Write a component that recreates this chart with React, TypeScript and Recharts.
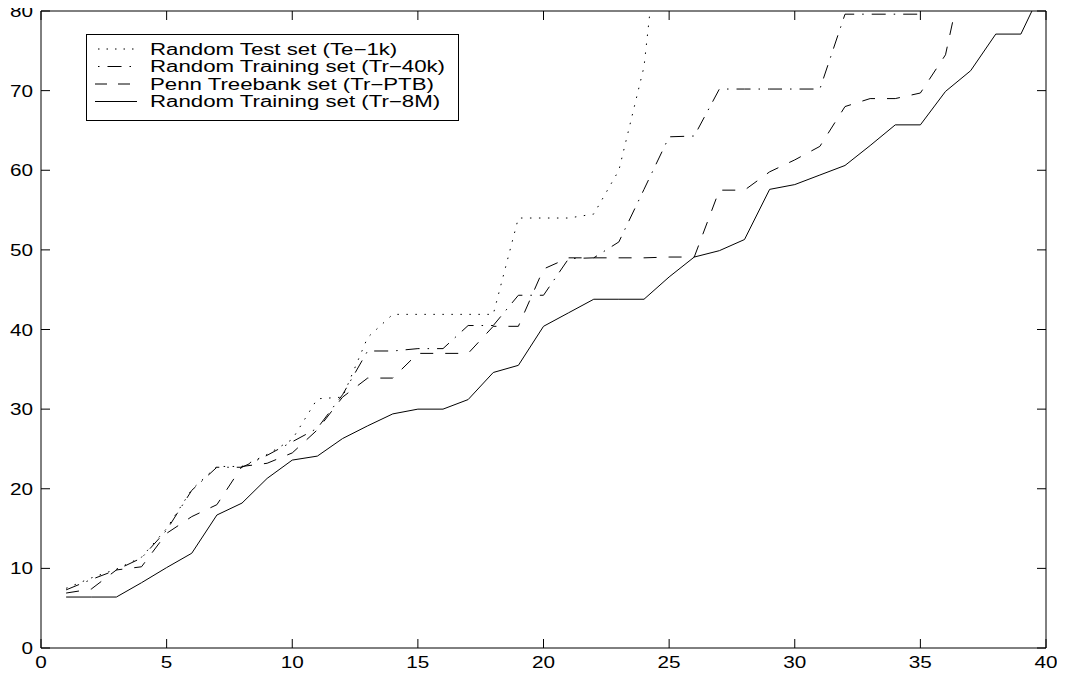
import React from "react";
import { LineChart, Line, XAxis, YAxis, Legend } from "recharts";

// step index on the x axis
const steps = [
  1, 2, 3, 4, 5, 6, 7, 8, 9, 10, 11, 12, 13, 14, 15, 16, 17, 18, 19, 20,
  21, 22, 23, 24, 25, 26, 27, 28, 29, 30, 31, 32, 33, 34, 35, 36, 37, 38, 39, 40,
];

// Random Test set (Te-1k)
const te1k = [
  7.5, 8.8, 9.9, 11.4, 15.0, 19.9, 22.8, 22.8, 24.3, 26.2, 31.3, 31.5, 39.0,
  41.9, 41.9, 41.9, 41.9, 41.9, 54.0, 54.0, 54.0, 54.5, 60.0, 73.0, 102.0,
];

// Random Training set (Tr-40k)
const tr40k = [
  7.3, 8.6, 9.8, 11.3, 14.8, 19.8, 22.7, 22.7, 24.2, 25.9, 27.6, 31.8, 37.3,
  37.3, 37.6, 37.6, 40.5, 40.5, 44.3, 44.3, 48.9, 49.0, 51.0, 57.6, 64.2, 64.3,
  70.2, 70.2, 70.2, 70.2, 70.2, 79.6, 79.6, 79.6, 79.6, 90.0,
];

// Penn Treebank set (Tr-PTB)
const trPtb = [
  6.9, 7.4, 9.8, 10.2, 14.4, 16.5, 18.0, 22.8, 23.2, 24.5, 27.4, 31.5, 33.9,
  33.9, 37.0, 37.0, 37.0, 40.4, 40.4, 47.6, 49.0, 49.0, 49.0, 49.0, 49.1, 49.1,
  57.5, 57.5, 59.8, 61.3, 63.0, 68.0, 69.0, 69.0, 69.7, 74.5, 89.0,
];

// Random Training set (Tr-8M)
const tr8m = [
  6.4, 6.4, 6.4, 8.2, 10.1, 11.9, 16.7, 18.2, 21.3, 23.6, 24.1, 26.3, 27.9,
  29.4, 30.0, 30.0, 31.2, 34.6, 35.5, 40.4, 42.1, 43.8, 43.8, 43.8, 46.6, 49.1,
  49.9, 51.3, 57.6, 58.2, 59.4, 60.6, 63.1, 65.7, 65.7, 69.9, 72.5, 77.1, 77.1,
  83.7,
];

const seriesNames = [
  "Random Test set (Te\u22121k)",
  "Random Training set (Tr\u221240k)",
  "Penn Treebank set (Tr\u2212PTB)",
  "Random Training set (Tr\u22128M)",
];

const xTicks = [0, 5, 10, 15, 20, 25, 30, 35, 40];
const yTicks = [0, 10, 20, 30, 40, 50, 60, 70, 80];

const data = steps.map((x, i) => ({
  x,
  te1k: te1k[i],
  tr40k: tr40k[i],
  trPtb: trPtb[i],
  tr8m: tr8m[i],
}));

const FONT = '"Liberation Sans", Arial, Helvetica, sans-serif';
const TICK = 9;
const STRETCH = 1.22;
const TICK_FONT = 17;

const DOTTED = "1.5 7.5";
const DASHDOT = "14 8 1.5 8";
const DASHED = "13 12";

function BottomTick({ x, y, payload }: any) {
  return (
    <g>
      <line x1={x} y1={y} x2={x} y2={y - TICK} stroke="#000" />
      <text
        transform={`translate(${x},${y + 20}) scale(${STRETCH},1)`}
        textAnchor="middle"
        fontSize={TICK_FONT}
        fontFamily={FONT}
        fill="#000"
      >
        {payload.value}
      </text>
    </g>
  );
}

function LeftTick({ x, y, payload }: any) {
  return (
    <g>
      <line x1={x} y1={y} x2={x + TICK} y2={y} stroke="#000" />
      <text
        transform={`translate(${x - 8},${y + 6}) scale(${STRETCH},1)`}
        textAnchor="end"
        fontSize={TICK_FONT}
        fontFamily={FONT}
        fill="#000"
      >
        {payload.value}
      </text>
    </g>
  );
}

function TopTick({ x, y }: any) {
  return <line x1={x} y1={y} x2={x} y2={y + TICK} stroke="#000" />;
}

function RightTick({ x, y }: any) {
  return <line x1={x} y1={y} x2={x - TICK} y2={y} stroke="#000" />;
}

function LegendBox() {
  const rowY = [15, 32.5, 50, 67.5];
  return (
    <svg width={374} height={88} style={{ display: "block" }}>
      <rect x={0.5} y={0.5} width={372} height={86} fill="#fff" stroke="#000" />
      <line x1={12} y1={rowY[0]} x2={50} y2={rowY[0]} stroke="#000" strokeDasharray="1.5 7" />
      <line x1={12} y1={rowY[1]} x2={47} y2={rowY[1]} stroke="#000" strokeDasharray="1.5 8 14 8" />
      <line x1={9} y1={rowY[2]} x2={46} y2={rowY[2]} stroke="#000" strokeDasharray="12 11" />
      <line x1={9} y1={rowY[3]} x2={51} y2={rowY[3]} stroke="#000" />
      {seriesNames.map((name, i) => (
        <text
          key={name}
          transform={`translate(64,${rowY[i] + 5.7}) scale(1.39,1)`}
          fontSize={16}
          fontFamily={FONT}
          fill="#000"
        >
          {name}
        </text>
      ))}
    </svg>
  );
}

export default function App() {
  return (
    <div style={{ margin: -8, width: 1065, height: 677, background: "#fff" }}>
      <LineChart
        width={1065}
        height={677}
        data={data}
        margin={{ top: 10, right: 18, left: 0, bottom: 0 }}
      >
        <XAxis
          dataKey="x"
          type="number"
          domain={[0, 40]}
          ticks={xTicks}
          interval={0}
          allowDataOverflow
          height={29}
          tickSize={0}
          tickMargin={0}
          tickLine={false}
          axisLine={{ stroke: "#000" }}
          tick={<BottomTick />}
        />
        <XAxis
          xAxisId="top"
          orientation="top"
          dataKey="x"
          type="number"
          domain={[0, 40]}
          ticks={xTicks}
          interval={0}
          allowDataOverflow
          height={1}
          tickSize={0}
          tickMargin={0}
          tickLine={false}
          axisLine={{ stroke: "#000" }}
          tick={<TopTick />}
        />
        <YAxis
          type="number"
          domain={[0, 80]}
          ticks={yTicks}
          interval={0}
          allowDataOverflow
          width={41}
          tickSize={0}
          tickMargin={0}
          tickLine={false}
          axisLine={{ stroke: "#000" }}
          tick={<LeftTick />}
        />
        <YAxis
          yAxisId="right"
          orientation="right"
          type="number"
          domain={[0, 80]}
          ticks={yTicks}
          interval={0}
          allowDataOverflow
          width={1}
          tickSize={0}
          tickMargin={0}
          tickLine={false}
          axisLine={{ stroke: "#000" }}
          tick={<RightTick />}
        />
        <Line
          dataKey="te1k"
          name={seriesNames[0]}
          stroke="#000"
          strokeWidth={1}
          strokeDasharray={DOTTED}
          dot={false}
          activeDot={false}
          isAnimationActive={false}
        />
        <Line
          dataKey="tr40k"
          name={seriesNames[1]}
          stroke="#000"
          strokeWidth={1}
          strokeDasharray={DASHDOT}
          dot={false}
          activeDot={false}
          isAnimationActive={false}
        />
        <Line
          dataKey="trPtb"
          name={seriesNames[2]}
          stroke="#000"
          strokeWidth={1}
          strokeDasharray={DASHED}
          dot={false}
          activeDot={false}
          isAnimationActive={false}
        />
        <Line
          dataKey="tr8m"
          name={seriesNames[3]}
          stroke="#000"
          strokeWidth={1}
          dot={false}
          activeDot={false}
          isAnimationActive={false}
        />
        <Legend
          layout="vertical"
          align="center"
          verticalAlign="middle"
          wrapperStyle={{ left: 86, top: 34, width: 374, height: 88 }}
          content={() => <LegendBox />}
        />
      </LineChart>
    </div>
  );
}
